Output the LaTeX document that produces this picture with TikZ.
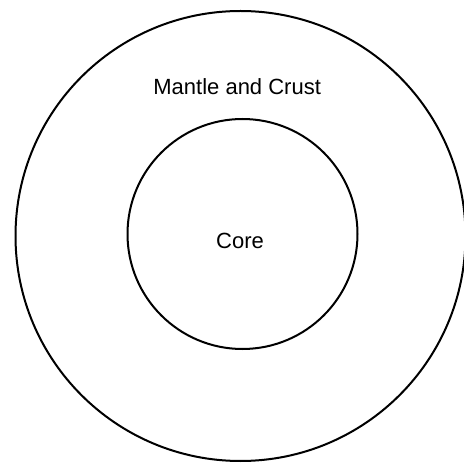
\documentclass[tikz,border=0pt]{standalone}
\usepackage{fontspec}
\setmainfont{Liberation Sans}
\usetikzlibrary{positioning}
\tikzstyle{layer}=[circle, draw=black, line width=1.5pt, inner sep=0pt]
\tikzstyle{caption}=[font=\fontsize{16.5}{19}\selectfont]

\begin{document}
\begin{tikzpicture}[x=0.75pt, y=-0.75pt, node distance=14pt]
    \useasboundingbox (0,0) rectangle (464,463);
    \node[layer, minimum size=337.5pt] (crust) at (240.5,236) {};
    \node[layer, minimum size=172.5pt] (core) at (242.5,234) {};
    \node[caption] (corelabel) at (240,240.5) {Core};
    \node[caption, above=of core, xshift=-4pt] (mantlelabel) {Mantle and Crust};
\end{tikzpicture}
\end{document}
